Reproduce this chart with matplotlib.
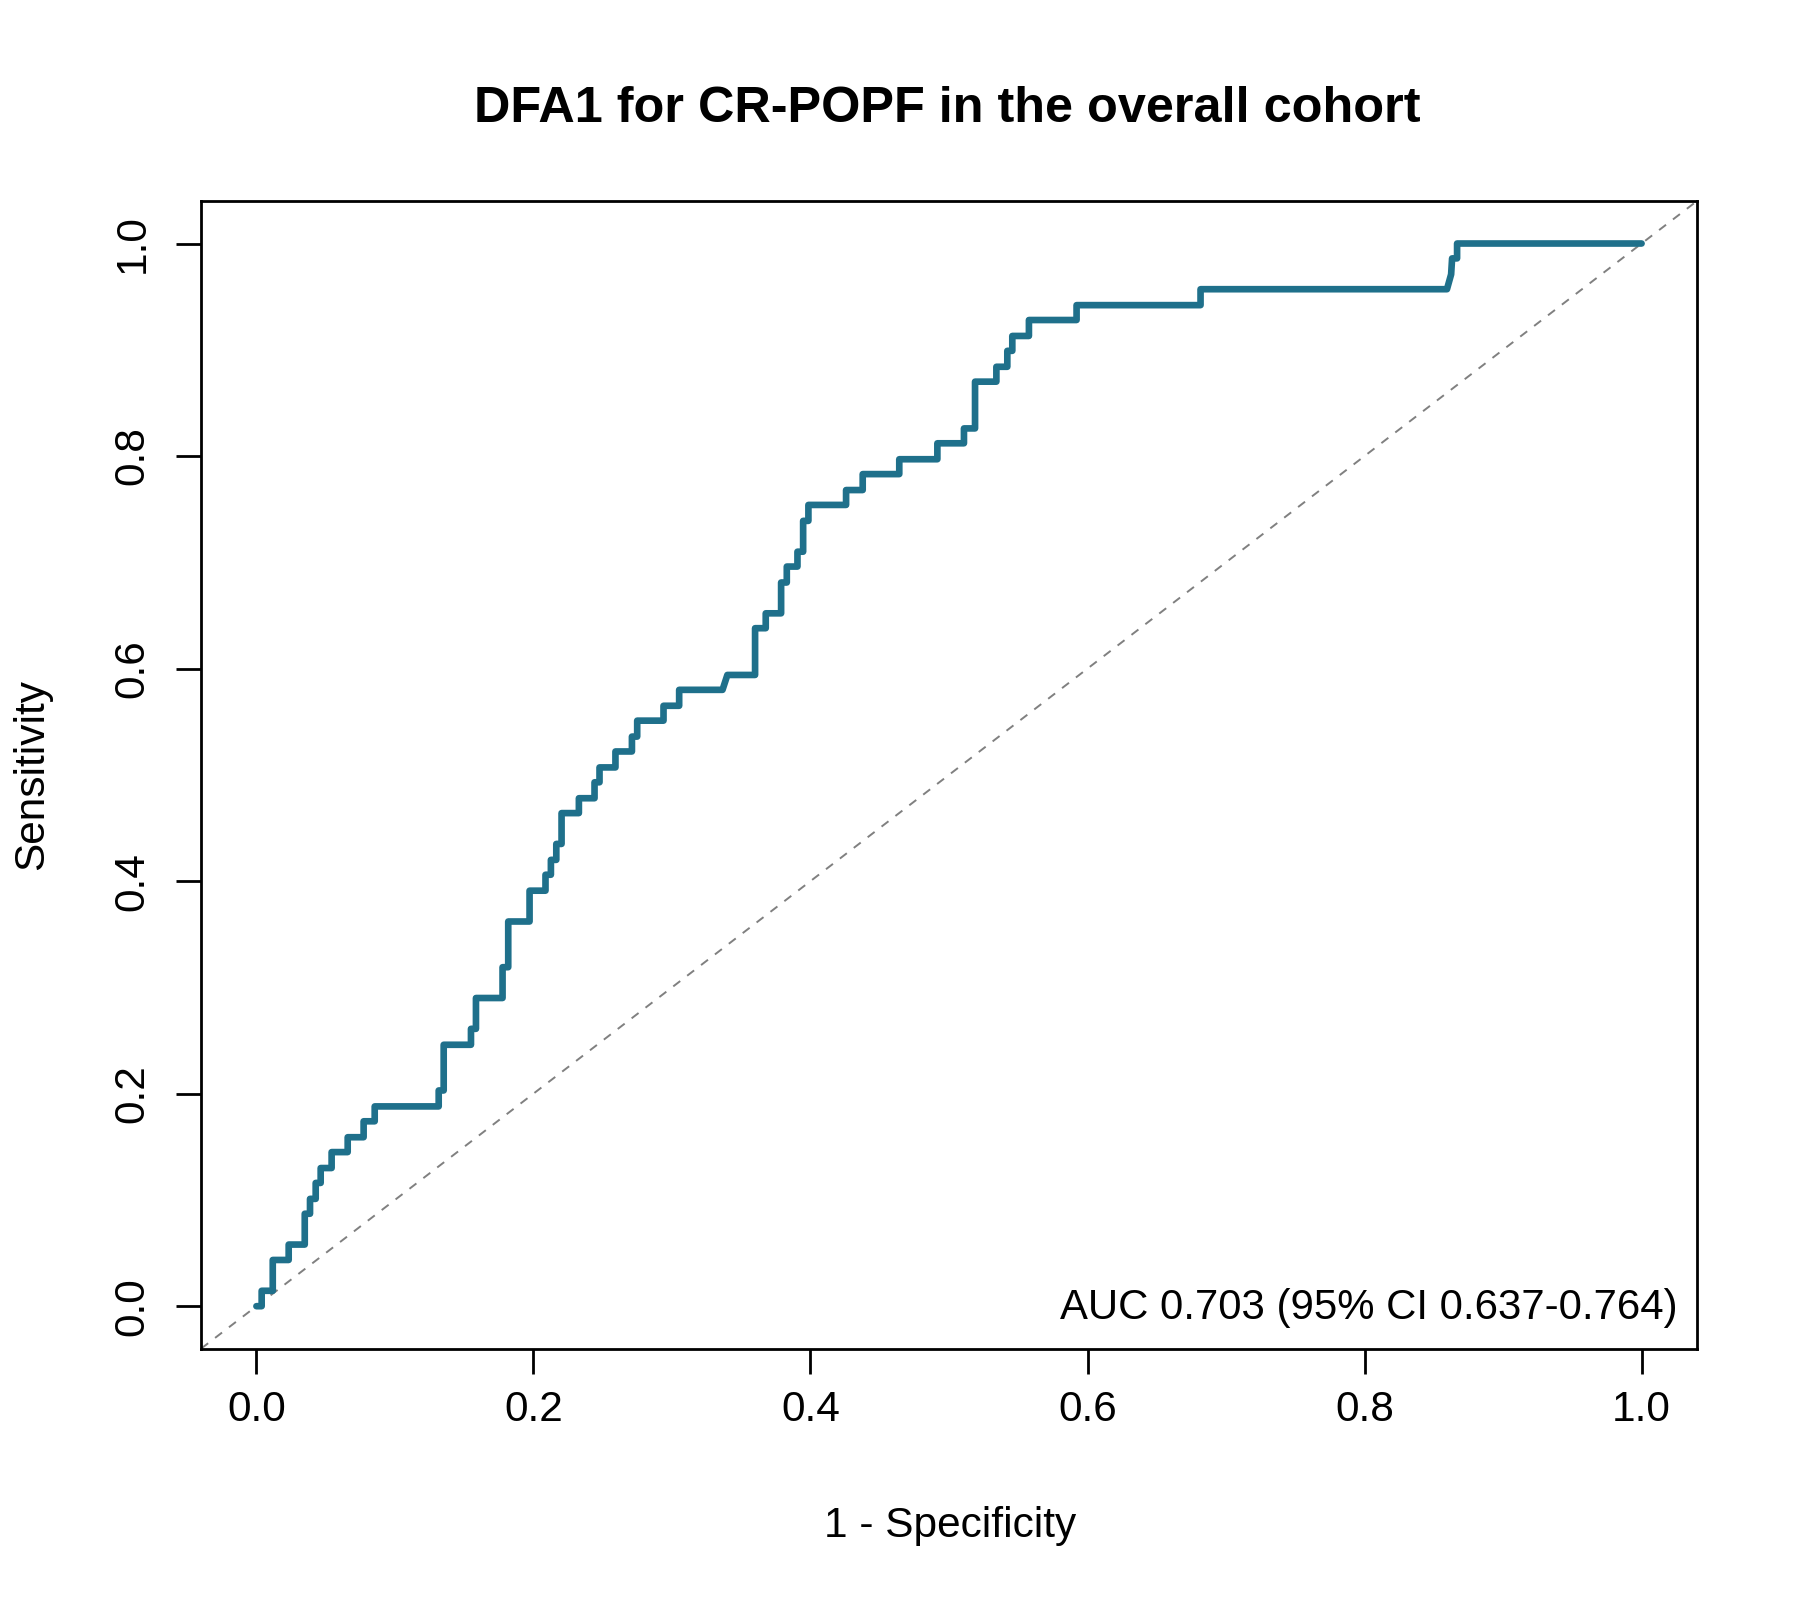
import matplotlib
matplotlib.use("Agg")
from matplotlib import pyplot as plt

plt.rcParams['font.family'] = ['Liberation Sans', 'DejaVu Sans']

# ROC curve vertices (1 - specificity, sensitivity)
one_minus_spec = [0.0, 0.0038, 0.0038, 0.0118, 0.0118, 0.0233, 0.0233, 0.0349, 0.0349,
                  0.0387, 0.0387, 0.0428, 0.0428, 0.0464, 0.0464, 0.0543, 0.0543,
                  0.0659, 0.0659, 0.0774, 0.0774, 0.0854, 0.0854, 0.1316, 0.1316,
                  0.1352, 0.1352, 0.1549, 0.1549, 0.1585, 0.1585, 0.1777, 0.1777,
                  0.1818, 0.1818, 0.1972, 0.1972, 0.2087, 0.2087, 0.2126, 0.2126,
                  0.2165, 0.2165, 0.2203, 0.2203, 0.2328, 0.2328, 0.2441, 0.2441,
                  0.2477, 0.2477, 0.2592, 0.2592, 0.2711, 0.2711, 0.2749, 0.2749,
                  0.2939, 0.2939, 0.3052, 0.3052, 0.3365, 0.3400, 0.3600, 0.3600,
                  0.3677, 0.3677, 0.3788, 0.3788, 0.3829, 0.3829, 0.3906, 0.3906,
                  0.3947, 0.3947, 0.3985, 0.3985, 0.4257, 0.4257, 0.4377, 0.4377,
                  0.4641, 0.4641, 0.4916, 0.4916, 0.5108, 0.5108, 0.5188, 0.5188,
                  0.5342, 0.5342, 0.5421, 0.5421, 0.5457, 0.5457, 0.5577, 0.5577,
                  0.5921, 0.5921, 0.6816, 0.6816, 0.8595, 0.8625, 0.8632, 0.8668,
                  0.8668, 1.0]
sensitivity = [0.0, 0.0, 0.0145, 0.0145, 0.0435, 0.0435, 0.058, 0.058, 0.087,
               0.087, 0.101, 0.101, 0.116, 0.116, 0.130, 0.130, 0.145,
               0.145, 0.159, 0.159, 0.174, 0.174, 0.188, 0.188, 0.203,
               0.203, 0.246, 0.246, 0.261, 0.261, 0.290, 0.290, 0.319,
               0.319, 0.362, 0.362, 0.391, 0.391, 0.406, 0.406, 0.420,
               0.420, 0.435, 0.435, 0.464, 0.464, 0.478, 0.478, 0.493,
               0.493, 0.507, 0.507, 0.522, 0.522, 0.536, 0.536, 0.551,
               0.551, 0.565, 0.565, 0.580, 0.580, 0.594, 0.594, 0.638,
               0.638, 0.652, 0.652, 0.681, 0.681, 0.696, 0.696, 0.710,
               0.710, 0.739, 0.739, 0.754, 0.754, 0.768, 0.768, 0.783,
               0.783, 0.797, 0.797, 0.812, 0.812, 0.826, 0.826, 0.870,
               0.870, 0.884, 0.884, 0.899, 0.899, 0.913, 0.913, 0.928,
               0.928, 0.942, 0.942, 0.957, 0.957, 0.971, 0.986, 0.986,
               1.0, 1.0]
tick_values = [0.0, 0.2, 0.4, 0.6, 0.8, 1.0]
tick_labels = ['0.0', '0.2', '0.4', '0.6', '0.8', '1.0']
auc_text = 'AUC 0.703 (95% CI 0.637-0.764)'

fig = plt.figure(figsize=(18, 16), dpi=100)
ax = fig.add_axes([201 / 1800, 1 - 1348.7 / 1600, 1496 / 1800, 1147.7 / 1600])

# chance line
ax.plot([-0.1, 1.1], [-0.1, 1.1], color='#808080', lw=1.4, linestyle=(0, (4.5, 4.5)), zorder=1)
ax.plot(one_minus_spec, sensitivity, color='#1f708b', lw=4.8,
        solid_joinstyle='round', solid_capstyle='round', zorder=2)

ax.set_xlim(-0.04, 1.04)
ax.set_ylim(-0.04, 1.04)
ax.set_xticks(tick_values)
ax.set_xticklabels(tick_labels)
ax.set_yticks(tick_values)
ax.set_yticklabels(tick_labels, rotation=90, va='center')
ax.tick_params(axis='both', length=18, width=2, labelsize=30.5, color='black')
ax.tick_params(axis='x', pad=12)
ax.tick_params(axis='y', pad=17)
for s in ax.spines.values():
    s.set_linewidth(2)

ax.text(1.026, -0.0125, auc_text, ha='right', va='baseline', fontsize=30.2)

fig.text(947 / 1800, 1 - 121.7 / 1600, 'DFA1 for CR-POPF in the overall cohort',
         ha='center', va='baseline', fontsize=36.3, fontweight='bold')
fig.text(950 / 1800, 1 - 1526 / 1600, '1 - Specificity', ha='center', va='center', fontsize=30.5)
fig.text(32 / 1800, 1 - 775 / 1600, 'Sensitivity', ha='center', va='center',
         rotation=90, fontsize=30.5)

fig.savefig('out.png', dpi=100, facecolor='white')
